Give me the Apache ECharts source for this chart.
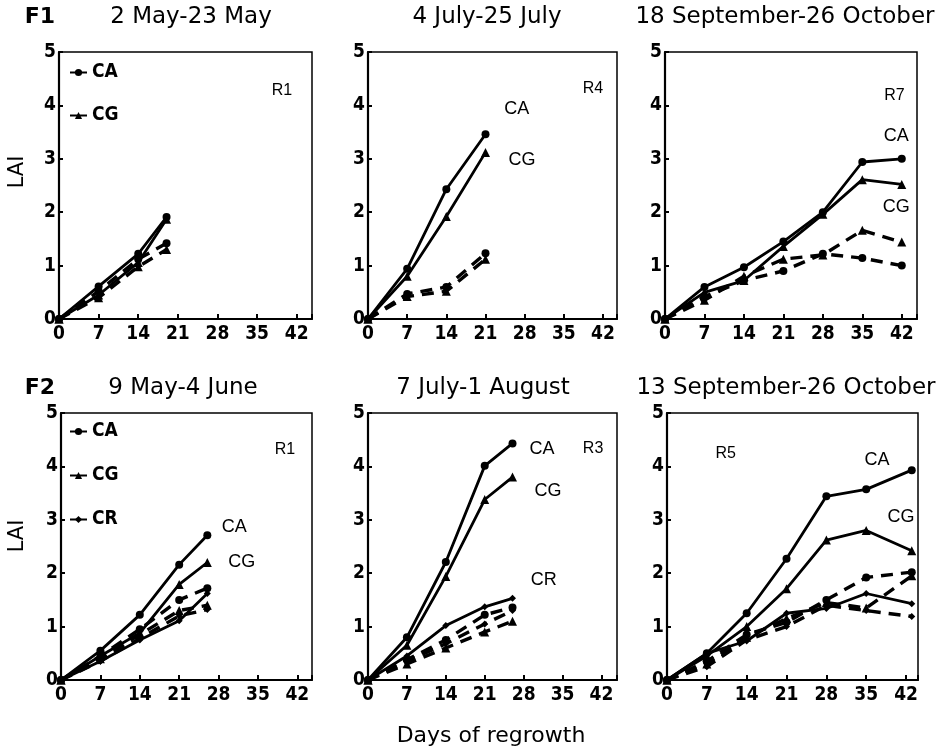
<!DOCTYPE html>
<html>
<head>
<meta charset="utf-8">
<script src="https://cdn.jsdelivr.net/npm/echarts@6/dist/echarts.min.js"></script>
<style>
  html, body { margin: 0; padding: 0; background: #fff; }
  #chart { width: 942px; height: 753px; }
</style>
</head>
<body>
<div id="chart"></div>
<script>
// Leaf area index (LAI) over days of regrowth, two fields and three periods each.
// Solid lines and dashed lines are the two treatments; markers: CA circle, CG triangle, CR diamond.

const yTickValues = [0, 1, 2, 3, 4, 5];
const xTickValues = [0, 7, 14, 21, 28, 35, 42];

// F1, R1: 2 May-23 May
const f1r1Days = [0, 7, 14, 19];
const f1r1CA = [0, 0.61, 1.22, 1.91];
const f1r1CG = [0, 0.45, 1.06, 1.87];
const f1r1CAd = [0, 0.52, 1.12, 1.42];
const f1r1CGd = [0, 0.4, 0.98, 1.3];

// F1, R4: 4 July-25 July
const f1r4Days = [0, 7, 14, 21];
const f1r4CA = [0, 0.94, 2.43, 3.46];
const f1r4CG = [0, 0.8, 1.92, 3.12];
const f1r4CAd = [0, 0.47, 0.6, 1.23];
const f1r4CGd = [0, 0.42, 0.52, 1.12];

// F1, R7: 18 September-26 October
const f1r7Days = [0, 7, 14, 21, 28, 35, 42];
const f1r7CA = [0, 0.6, 0.97, 1.45, 2.0, 2.94, 3.0];
const f1r7CG = [0, 0.5, 0.72, 1.36, 1.96, 2.61, 2.52];
const f1r7CAd = [0, 0.42, 0.72, 0.9, 1.22, 1.14, 1.0];
const f1r7CGd = [0, 0.35, 0.8, 1.12, 1.2, 1.66, 1.44];

// F2, R1: 9 May-4 June
const f2r1Days = [0, 7, 14, 21, 26];
const f2r1CA = [0, 0.55, 1.22, 2.16, 2.71];
const f2r1CG = [0, 0.45, 0.88, 1.79, 2.2];
const f2r1CR = [0, 0.35, 0.75, 1.11, 1.62];
const f2r1CAd = [0, 0.45, 0.95, 1.5, 1.72];
const f2r1CGd = [0, 0.4, 0.85, 1.3, 1.4];
const f2r1CRd = [0, 0.35, 0.78, 1.2, 1.32];

// F2, R3: 7 July-1 August
const f2r3Days = [0, 7, 14, 21, 26];
const f2r3CA = [0, 0.8, 2.21, 4.01, 4.43];
const f2r3CG = [0, 0.65, 1.94, 3.38, 3.8];
const f2r3CR = [0, 0.45, 1.02, 1.37, 1.53];
const f2r3CAd = [0, 0.38, 0.75, 1.22, 1.36];
const f2r3CGd = [0, 0.3, 0.6, 0.9, 1.1];
const f2r3CRd = [0, 0.35, 0.68, 1.05, 1.3];

// F2, R5: 13 September-26 October
const f2r5Days = [0, 7, 14, 21, 28, 35, 43];
const f2r5CA = [0, 0.5, 1.25, 2.27, 3.44, 3.57, 3.93];
const f2r5CG = [0, 0.45, 1.0, 1.71, 2.62, 2.8, 2.42];
const f2r5CR = [0, 0.5, 0.73, 1.25, 1.34, 1.62, 1.43];
const f2r5CAd = [0, 0.35, 0.85, 1.08, 1.5, 1.92, 2.02];
const f2r5CGd = [0, 0.3, 0.8, 1.15, 1.45, 1.35, 1.95];
const f2r5CRd = [0, 0.25, 0.75, 1.0, 1.4, 1.3, 1.19];

const periodTitles = [
  '2 May-23 May', '4 July-25 July', '18 September-26 October',
  '9 May-4 June', '7 July-1 August', '13 September-26 October'
];
const fieldTitles = ['F1', 'F2'];
const yAxisTitle = 'LAI';
const xAxisTitle = 'Days of regrowth';

// ---- layout ----
const grids = [
  { left: 59, top: 52, width: 253, height: 267, xMax: 44.7 },
  { left: 368, top: 52, width: 249, height: 267, xMax: 44.5 },
  { left: 665, top: 52, width: 252, height: 267, xMax: 44.7 },
  { left: 61, top: 413, width: 251, height: 267, xMax: 44.6 },
  { left: 368, top: 413, width: 249, height: 267, xMax: 44.8 },
  { left: 667, top: 413, width: 251, height: 267, xMax: 44.1 }
];

// in-panel text labels, anchored in data coordinates of each panel
const panelNotes = [
  [{ t: 'R1', x: 39.4, y: 4.28, s: 16 }],
  [{ t: 'R4', x: 40.2, y: 4.32, s: 16 }, { t: 'CA', x: 26.6, y: 3.94, s: 18 }, { t: 'CG', x: 27.5, y: 2.97, s: 18 }],
  [{ t: 'R7', x: 40.7, y: 4.18, s: 16 }, { t: 'CA', x: 41, y: 3.42, s: 18 }, { t: 'CG', x: 41, y: 2.09, s: 18 }],
  [{ t: 'R1', x: 39.8, y: 4.31, s: 16 }, { t: 'CA', x: 30.8, y: 2.86, s: 18 }, { t: 'CG', x: 32.1, y: 2.2, s: 18 }],
  [{ t: 'R3', x: 40.5, y: 4.33, s: 16 }, { t: 'CA', x: 31.3, y: 4.33, s: 18 }, { t: 'CG', x: 32.4, y: 3.54, s: 18 }, { t: 'CR', x: 31.6, y: 1.87, s: 18 }],
  [{ t: 'R5', x: 10.3, y: 4.24, s: 16 }, { t: 'CA', x: 36.9, y: 4.11, s: 18 }, { t: 'CG', x: 41.1, y: 3.05, s: 18 }]
];

const panels = [
  { days: f1r1Days, lines: [['CA', f1r1CA, false], ['CG', f1r1CG, false], ['CA', f1r1CAd, true], ['CG', f1r1CGd, true]] },
  { days: f1r4Days, lines: [['CA', f1r4CA, false], ['CG', f1r4CG, false], ['CA', f1r4CAd, true], ['CG', f1r4CGd, true]] },
  { days: f1r7Days, lines: [['CA', f1r7CA, false], ['CG', f1r7CG, false], ['CA', f1r7CAd, true], ['CG', f1r7CGd, true]] },
  { days: f2r1Days, lines: [['CA', f2r1CA, false], ['CG', f2r1CG, false], ['CR', f2r1CR, false], ['CA', f2r1CAd, true], ['CG', f2r1CGd, true], ['CR', f2r1CRd, true]] },
  { days: f2r3Days, lines: [['CA', f2r3CA, false], ['CG', f2r3CG, false], ['CR', f2r3CR, false], ['CA', f2r3CAd, true], ['CG', f2r3CGd, true], ['CR', f2r3CRd, true]] },
  { days: f2r5Days, lines: [['CA', f2r5CA, false], ['CG', f2r5CG, false], ['CR', f2r5CR, false], ['CA', f2r5CAd, true], ['CG', f2r5CGd, true], ['CR', f2r5CRd, true]] }
];

const markerOf = { CA: ['circle', 8], CG: ['triangle', 9], CR: ['diamond', 7] };
const TICK_FONT = "'Liberation Sans Narrow', 'DejaVu Sans Condensed', 'Liberation Sans', sans-serif";
const NOTE_FONT = "'Liberation Sans', Arial, sans-serif";
const TITLE_FONT = "'DejaVu Sans', sans-serif";

const gridOpts = [], xAxes = [], yAxes = [], series = [];

grids.forEach((g, i) => {
  gridOpts.push({
    left: g.left, top: g.top, width: g.width, height: g.height,
    show: true, borderColor: '#000', borderWidth: 1.5, backgroundColor: 'transparent'
  });
  xAxes.push({
    type: 'value', gridIndex: i, min: 0, max: g.xMax, interval: 7,
    axisLine: { onZero: false, lineStyle: { color: '#000', width: 2.2 } },
    axisTick: { inside: true, length: 5, lineStyle: { color: '#000', width: 2 } },
    axisLabel: {
      margin: 6, color: '#000', fontFamily: TICK_FONT, fontSize: 19, fontWeight: 'bold',
      formatter: v => (xTickValues.indexOf(v) >= 0 ? String(v) : '')
    },
    splitLine: { show: false }
  });
  yAxes.push({
    type: 'value', gridIndex: i, min: 0, max: 5, interval: 1,
    axisLine: { onZero: false, lineStyle: { color: '#000', width: 2.2 } },
    axisTick: { inside: true, length: 4, lineStyle: { color: '#000', width: 2 } },
    axisLabel: {
      margin: 3, color: '#000', fontFamily: TICK_FONT, fontSize: 19, fontWeight: 'bold',
      formatter: v => (yTickValues.indexOf(v) >= 0 ? String(v) : '')
    },
    splitLine: { show: false }
  });
});

panels.forEach((p, i) => {
  p.lines.forEach(([key, vals, dashed]) => {
    const [sym, size] = markerOf[key];
    series.push({
      type: 'line',
      name: dashed ? key + ' dashed' : key,
      xAxisIndex: i, yAxisIndex: i,
      data: p.days.map((d, k) => [d, vals[k]]),
      symbol: sym, symbolSize: size, showSymbol: true,
      itemStyle: { color: '#000' },
      lineStyle: dashed
        ? { color: '#000', width: 3.4, type: [12, 8] }
        : { color: '#000', width: 2.8 },
      animation: false, silent: true
    });
  });
});

const legendBase = {
  orient: 'vertical', selectedMode: false, padding: 0,
  itemWidth: 17, itemHeight: 9,
  textStyle: { color: '#000', fontFamily: TICK_FONT, fontSize: 19, fontWeight: 'bold', lineHeight: 18 }
};

const graphic = [];
const titleRows = [
  { y: 17, field: fieldTitles[0], centers: [191, 487, 785], idx: [0, 1, 2] },
  { y: 388, field: fieldTitles[1], centers: [183, 483, 786], idx: [3, 4, 5] }
];
titleRows.forEach(r => {
  graphic.push({
    type: 'text', x: 40, y: r.y, silent: true,
    style: { text: r.field, fill: '#000', font: "bold 22px 'DejaVu Sans', sans-serif", align: 'center', verticalAlign: 'middle' }
  });
  r.centers.forEach((cx, k) => graphic.push({
    type: 'text', x: cx, y: r.y, silent: true,
    style: { text: periodTitles[r.idx[k]], fill: '#000', font: '23px ' + TITLE_FONT, align: 'center', verticalAlign: 'middle' }
  }));
});
[172, 536].forEach(cy => graphic.push({
  type: 'text', x: 18, y: cy, rotation: Math.PI / 2, silent: true,
  style: { text: yAxisTitle, fill: '#000', font: '21px ' + TITLE_FONT, align: 'center', verticalAlign: 'middle' }
}));
graphic.push({
  type: 'text', x: 491, y: 736, silent: true,
  style: { text: xAxisTitle, fill: '#000', font: '22px ' + TITLE_FONT, align: 'center', verticalAlign: 'middle' }
});

const chart = echarts.init(document.getElementById('chart'), null, { renderer: 'canvas' });
chart.setOption({
  backgroundColor: '#fff',
  animation: false,
  textStyle: { color: '#000' },
  grid: gridOpts,
  xAxis: xAxes,
  yAxis: yAxes,
  legend: [
    Object.assign({}, legendBase, { left: 69, top: 63, itemGap: 24, data: ['CA', 'CG'] }),
    Object.assign({}, legendBase, { left: 69, top: 422, itemGap: 25, data: ['CA', 'CG', 'CR'] })
  ],
  series: series
});

// place the in-panel labels through each panel's own axis scales
panelNotes.forEach((notes, i) => {
  notes.forEach(n => {
    const pt = chart.convertToPixel({ gridIndex: i }, [n.x, n.y]);
    graphic.push({
      type: 'text', x: pt[0], y: pt[1], silent: true,
      style: { text: n.t, fill: '#000', font: n.s + 'px ' + NOTE_FONT, align: 'center', verticalAlign: 'middle' }
    });
  });
});
chart.setOption({ graphic: graphic });
</script>
</body>
</html>
